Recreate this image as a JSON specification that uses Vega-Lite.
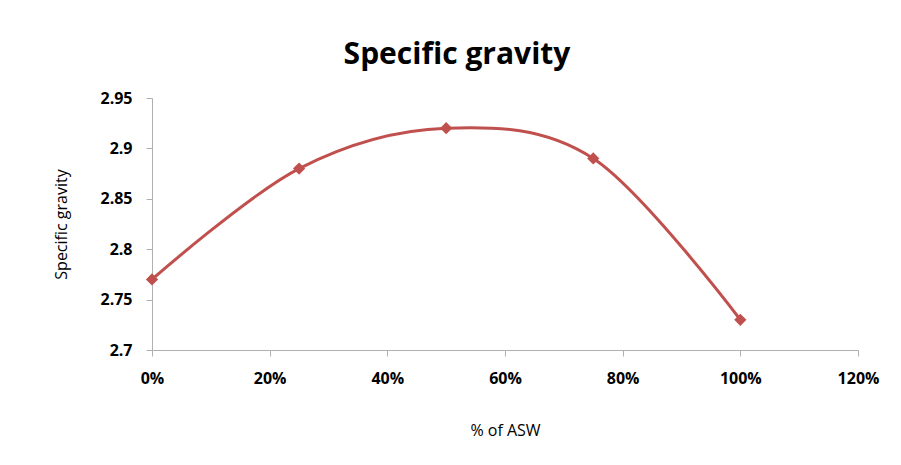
{
  "$schema": "https://vega.github.io/schema/vega-lite/v6.json",
  "width": 706,
  "height": 252,
  "autosize": {"type": "none"},
  "padding": {"left": 152, "top": 98, "right": 43, "bottom": 115},
  "background": "white",
  "title": {
    "text": "Specific gravity",
    "font": "Open Sans",
    "fontSize": 30,
    "fontWeight": "bold",
    "color": "black",
    "anchor": "middle",
    "dx": -48,
    "offset": 20
  },
  "data": {
    "values": [
      {"asw": 0, "sg": 2.77},
      {"asw": 0.25, "sg": 2.88},
      {"asw": 0.5, "sg": 2.92},
      {"asw": 0.75, "sg": 2.89},
      {"asw": 1.0, "sg": 2.73}
    ]
  },
  "encoding": {
    "x": {
      "field": "asw",
      "type": "quantitative",
      "title": "% of ASW",
      "scale": {"domain": [0, 1.2], "nice": false, "zero": false},
      "axis": {
        "values": [0, 0.2, 0.4, 0.6, 0.8, 1.0, 1.2],
        "format": ".0%",
        "grid": false,
        "labelFlush": false,
        "domainColor": "#b0b0b0",
        "tickColor": "#b0b0b0",
        "tickSize": 6,
        "labelFont": "Open Sans",
        "labelFontSize": 16,
        "labelFontWeight": "bold",
        "labelColor": "black",
        "labelPadding": 14,
        "titleFont": "Open Sans",
        "titleFontSize": 16,
        "titleFontWeight": "normal",
        "titleColor": "black",
        "titlePadding": 36
      }
    },
    "y": {
      "field": "sg",
      "type": "quantitative",
      "title": "Specific gravity",
      "scale": {"domain": [2.7, 2.95], "nice": false, "zero": false},
      "axis": {
        "values": [2.7, 2.75, 2.8, 2.85, 2.9, 2.95],
        "format": ".2~f",
        "grid": false,
        "labelFlush": false,
        "domainColor": "#b0b0b0",
        "tickColor": "#b0b0b0",
        "tickSize": 6,
        "labelFont": "Open Sans",
        "labelFontSize": 16,
        "labelFontWeight": "bold",
        "labelColor": "black",
        "labelPadding": 14,
        "titleFont": "Open Sans",
        "titleFontSize": 16,
        "titleFontWeight": "normal",
        "titleColor": "black",
        "titlePadding": 30
      }
    }
  },
  "layer": [
    {
      "mark": {"type": "line", "interpolate": "cardinal", "color": "#C0504D", "strokeWidth": 3}
    },
    {
      "mark": {"type": "point", "shape": "diamond", "filled": true, "color": "#C0504D", "size": 150, "opacity": 1}
    }
  ],
  "config": {"view": {"stroke": null}}
}
